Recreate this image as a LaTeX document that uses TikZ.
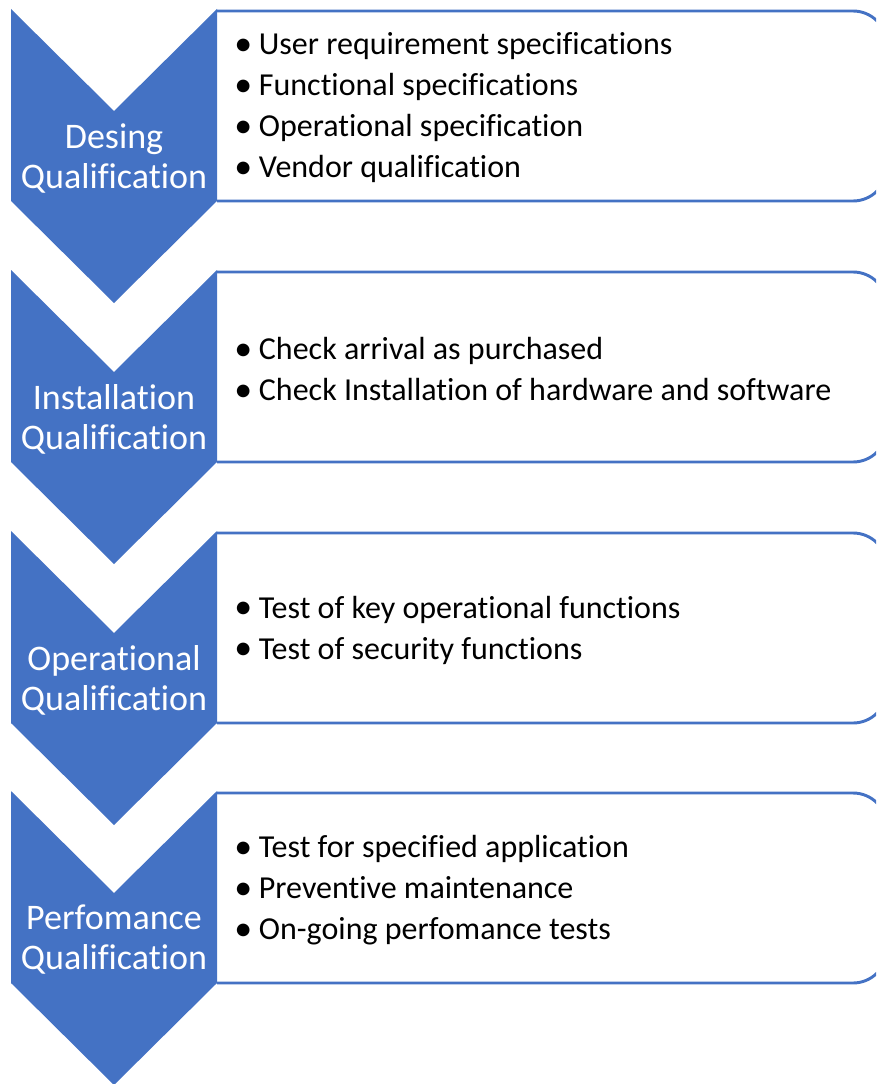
\documentclass[tikz,border=0pt]{standalone}
\usepackage{fontspec}
\usepackage{graphicx}
\setmainfont{Carlito}[Ligatures=NoCommon]
\definecolor{qblue}{RGB}{68,114,196}
\tikzset{
  boxline/.style={draw=qblue, line width=2.2pt, rounded corners=25.5pt},
  chev/.style={fill=qblue},
  lbl/.style={text=white, align=center, inner sep=0pt, font=\fontsize{27}{30}\selectfont},
  items/.style={text=black, align=left, inner sep=0pt, anchor=west, font=\fontsize{24}{30.75}\selectfont}
}
\newcommand{\itm}[1]{\makebox[17pt][l]{\hspace{-1.5pt}\raisebox{-0.7pt}{\scalebox{1.12}{•}}}#1}
\newcommand{\qstage}[4]{%
  \draw[boxline] (217,#1+2) -- (887,#1+2) -- (887,#1+192) -- (217,#1+192);
  \fill[chev] (11,#1) -- (114,#1+102) -- (217,#1) -- (217,#1+192) -- (114,#1+294) -- (11,#1+192) -- cycle;
  \node[lbl] (#2l) at (114,#1+149) {#3};
  \node[items] (#2b) at (236,#1+99) {#4};
}
\begin{document}
\begin{tikzpicture}[x=0.75pt,y=-0.75pt]
\path[use as bounding box] (0,0) rectangle (876,1084);
\clip (0,0) rectangle (876,1084);
\qstage{9}{dq}{Desing\\Qualification}{\itm{User requirement specifications}\\\itm{Functional specifications}\\\itm{Operational specification}\\\itm{Vendor qualification}}
\qstage{270}{iq}{Installation\\Qualification}{\itm{Check arrival as purchased}\\\itm{Check Installation of hardware and software}}
\qstage{531}{oq}{Operational\\Qualification}{\itm{Test of key operational functions}\\\itm{Test of security functions}}
\qstage{791}{pq}{Perfomance\\Qualification}{\itm{Test for specified application}\\\itm{Preventive maintenance}\\\itm{On-going perfomance tests}}
\end{tikzpicture}
\end{document}
